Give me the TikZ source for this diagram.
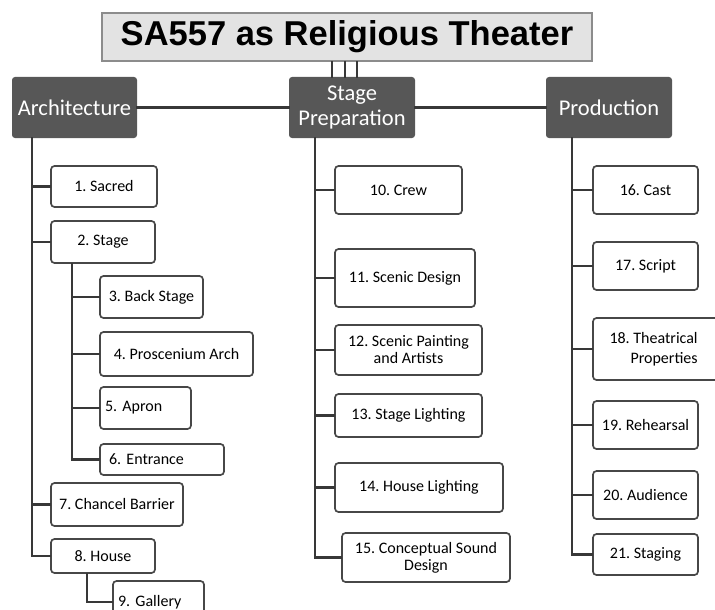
\documentclass[tikz,border=0pt]{standalone}
\usepackage{fontspec}
\setmainfont{Carlito}
\newfontfamily\titlefont{Liberation Sans}
\frenchspacing
\begin{document}
\begin{tikzpicture}[x=1pt,y=-1pt,
  title/.style={draw=black!45,line width=1.5pt,fill=black!11,inner sep=0pt,
    font=\titlefont\bfseries\fontsize{34.5}{36}\selectfont},
  head/.style={fill=black!66,rounded corners=3pt,text=white,inner sep=0pt,
    align=center,font=\fontsize{22.5}{25}\selectfont},
  item/.style={draw=black!72,line width=1.7pt,fill=white,rounded corners=3.5pt,
    inner sep=0pt,align=center,font=\fontsize{16}{17}\selectfont},
  leftitem/.style={item,align=left,inner xsep=5pt,text width=#1},
  link/.style={draw=black!78,line width=2.4pt,line cap=rect}]

\useasboundingbox (0,0) rectangle (715,610);
\clip (0,0) rectangle (715,610);

% Title and the three branches.
\node[title,minimum width=490,minimum height=48] (title) at (347,37)
  {SA557 as Religious Theater};
\node[head,minimum width=125,minimum height=61] (arch) at (74.5,107.5) {Architecture};
\node[head,minimum width=126,minimum height=61] (prep) at (352,107.5) {Stage\\Preparation};
\node[head,minimum width=126,minimum height=61] (prod) at (609,107.5) {Production};
\draw[link] (arch.east) -- (prep.west);
\draw[link] (prep.east) -- (prod.west);
\foreach \x in {332,345,357}
  \draw[link] (title.south -| \x,0) -- (prep.north -| \x,0);

% Architecture column.
\foreach \n/\x/\y/\w/\h/\t in {
  a1/104/186.5/106/41/{1. Sacred},
  a2/103/242/104/42/{2. Stage},
  a3/151.5/297/103/42/{3. Back Stage},
  a4/176.5/354/153/44/{4. Proscenium Arch},
  a7/117/504.5/132/43/{7. Chancel Barrier},
  a8/103/556/104/34/{8. House}}
  \node[item,minimum width=\w,minimum height=\h] (\n) at (\x,\y) {\t};
\node[leftitem=81,minimum height=42] (a5) at (145.5,408) {5. Apron};
\node[leftitem=114,minimum height=31,inner xsep=9pt,text width=106] (a6) at (162,459.5) {6. Entrance};
\node[leftitem=81,minimum height=42] (a9) at (158.5,602) {9. Gallery};
\foreach \n in {a1,a2,a7,a8}
  \draw[link] (arch.south -| 32,0) |- (\n.west);
\foreach \n in {a3,a4,a5,a6}
  \draw[link] (a2.south -| 72,0) |- (\n.west);
\draw[link] (a8.south -| 87,0) |- (a9.west);

% Stage preparation column.
\foreach \n/\x/\y/\w/\h/\t in {
  p10/398.5/190/127/48/{10. Crew},
  p11/405/278/140/58/{11. Scenic Design},
  p12/408.5/350/147/50/{12. Scenic Painting\\and Artists},
  p13/408.5/415.5/147/43/{13. Stage Lighting},
  p14/419/487.5/168/49/{14. House Lighting},
  p15/426/557.5/168/49/{15. Conceptual Sound\\Design}}
{
  \node[item,minimum width=\w,minimum height=\h] (\n) at (\x,\y) {\t};
  \draw[link] (prep.south -| 315,0) |- (\n.west);
}

% Production column.
\foreach \n/\y/\h/\t in {
  r16/190/48/{16. Cast},
  r17/266/48/{17. Script},
  r19/425/48/{19. Rehearsal},
  r20/495/48/{20. Audience},
  r21/554.5/41/{21. Staging}}
{
  \node[item,minimum width=105,minimum height=\h] (\n) at (645.5,\y) {\t};
  \draw[link] (prod.south -| 572,0) |- (\n.west);
}
\node[item,minimum width=134,minimum height=62] (r18) at (660,349) {};
\node[inner sep=0pt,align=right,anchor=east,font=\fontsize{16}{20}\selectfont]
  (r18text) at ([xshift=-30pt]r18.east) {18. Theatrical\\Properties};
\draw[link] (prod.south -| 572,0) |- (r18.west);
\end{tikzpicture}
\end{document}
